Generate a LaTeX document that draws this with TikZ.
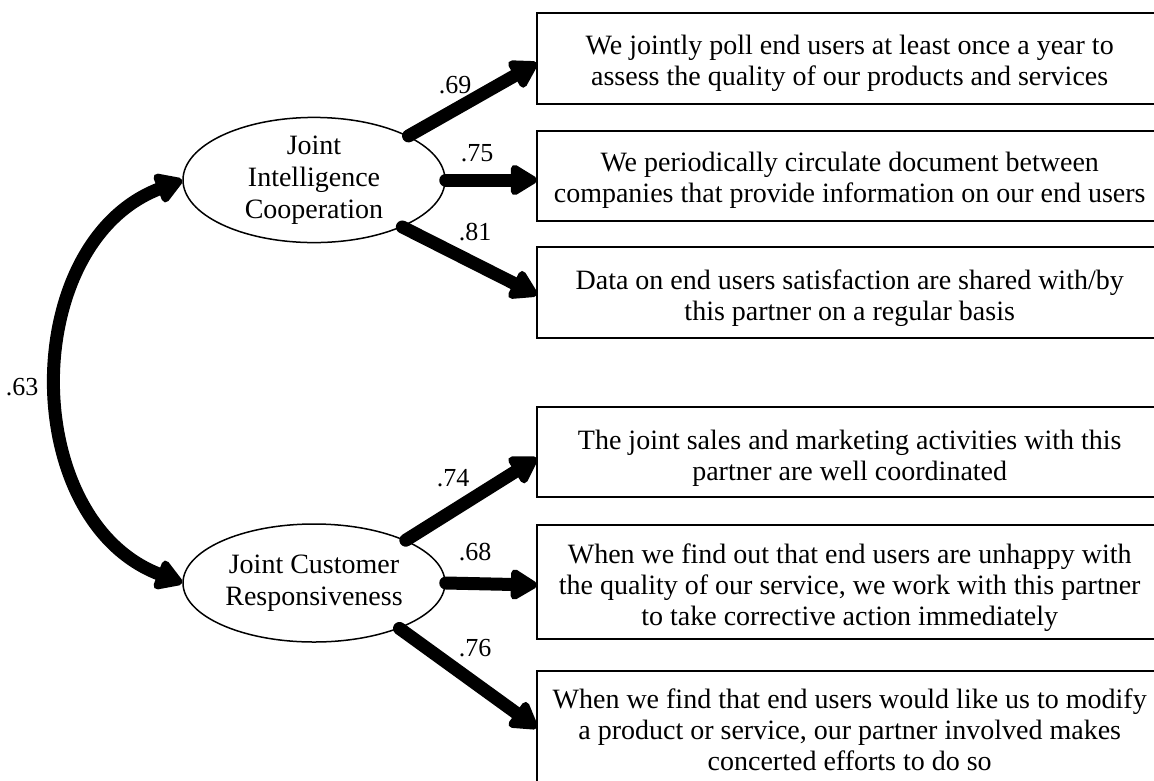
\documentclass[tikz,border=0pt]{standalone}
\usepackage{fontspec}
\setmainfont{Liberation Serif}
\usetikzlibrary{shapes.geometric,arrows.meta}

\begin{document}
\begin{tikzpicture}[x=1pt, y=-1pt, >={Triangle[length=30pt,width=34pt,round]},
  item/.style={anchor=west, minimum width=625pt, inner sep=0pt, align=center, font=\fontsize{28}{31}\selectfont},
  boxline/.style={line width=2pt},
  factor/.style={draw, ellipse, line width=1.5pt, minimum width=262pt, minimum height=118pt, inner sep=0pt, align=center, font=\fontsize{28}{32}\selectfont},
  load/.style={line width=13pt, line cap=round, ->},
  coef/.style={font=\fontsize{26}{26}\selectfont}]

\useasboundingbox (0,0) rectangle (1154,780);
\clip (0,0) rectangle (1154,780);

\node[factor] (jic) at (314,180) {Joint\\Intelligence\\Cooperation};
\node[factor] (jcr) at (314,583) {Joint Customer\\Responsiveness};

\node[item, minimum height=91pt] (q1) at (537,58.5) {\rule{0pt}{29pt}We jointly poll end users at least once a year to\\assess the quality of our products and services};
\node[item, minimum height=90pt] (q2) at (537,176) {\rule{0pt}{27pt}We periodically circulate document between\\companies that provide information on our end users};
\node[item, minimum height=91pt] (q3) at (537,292.5) {\rule{0pt}{31pt}Data on end users satisfaction are shared with/by\\this partner on a regular basis};

\node[item, minimum height=90pt] (q4) at (537,452) {\rule{0pt}{31pt}The joint sales and marketing activities with this\\partner are well coordinated};
\node[item, minimum height=114pt] (q5) at (537,582) {\rule{0pt}{31pt}When we find out that end users are unhappy with\\the quality of our service, we work with this partner\\to take corrective action immediately};
\node[item, minimum height=114pt] (q6) at (537,728) {\rule{0pt}{23pt}When we find that end users would like us to modify\\a product or service, our partner involved makes\\concerted efforts to do so};

% boxes are open on the right, they run off the page
\draw [boxline] (q1.north east) -- (q1.north west) -- (q1.south west) -- (q1.south east);
\draw [boxline] (q2.north east) -- (q2.north west) -- (q2.south west) -- (q2.south east);
\draw [boxline] (q3.north east) -- (q3.north west) -- (q3.south west) -- (q3.south east);
\draw [boxline] (q4.north east) -- (q4.north west) -- (q4.south west) -- (q4.south east);
\draw [boxline] (q5.north east) -- (q5.north west) -- (q5.south west) -- (q5.south east);
\draw [boxline] (q6.north east) -- (q6.north west) -- (q6.south west);

\draw [load] (jic.25) -- ([yshift=-4.5pt]q1.west);
\node[coef] (l1) at (455,85) {.69};
\draw [load] (jic.east) -- ([yshift=-4pt]q2.west);
\node[coef] (l2) at (477,153) {.75};
\draw [load] (jic.-28) -- ([yshift=-2.5pt]q3.west);
\node[coef] (l3) at (475,232) {.81};

\draw [load] (jcr.25) -- ([yshift=-6pt]q4.west);
\node[coef] (l4) at (453,478) {.74};
\draw [load] (jcr.east) -- ([yshift=-3pt]q5.west);
\node[coef] (l5) at (475,552) {.68};
\draw [load] (jcr.-28) -- (q6.west);
\node[coef] (l6) at (475,648) {.76};

% correlation
\draw [load, <->] (jic.west) .. controls (18,243) and (18,520) .. (jcr.west);
\node[coef] (l0) at (22,387) {.63};
\end{tikzpicture}
\end{document}
